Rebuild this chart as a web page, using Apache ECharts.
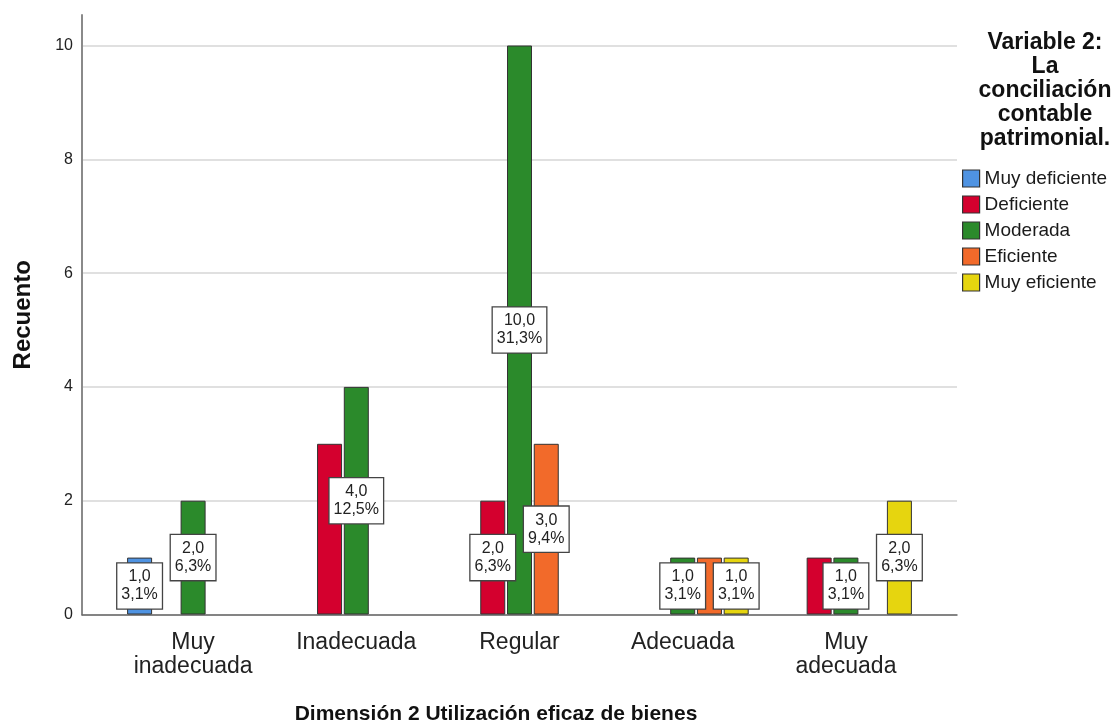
<!DOCTYPE html>
<html>
<head>
<meta charset="utf-8">
<script src="https://cdn.jsdelivr.net/npm/echarts@6/dist/echarts.min.js"></script>
<style>
html,body{margin:0;padding:0;background:#fff;}
#chart{width:1116px;height:724px;}
</style>
</head>
<body>
<div id="chart"></div>
<script>
// ---- data ----
const categories = ['Muy\ninadecuada', 'Inadecuada', 'Regular', 'Adecuada', 'Muy\nadecuada'];
const seriesNames = ['Muy deficiente', 'Deficiente', 'Moderada', 'Eficiente', 'Muy eficiente'];
const muyDeficiente = [1, null, null, null, null];
const deficiente = [null, 3, 2, null, 1];
const moderada = [2, 4, 10, 1, 1];
const eficiente = [null, null, 3, 1, null];
const muyEficiente = [null, null, null, 1, 2];
const yTicks = [0, 2, 4, 6, 8, 10];
// labels that the original hides (overlapping)
const hiddenLabels = [['Deficiente', 1], ['Eficiente', 3], ['Deficiente', 4]];

const seriesValues = [muyDeficiente, deficiente, moderada, eficiente, muyEficiente];
const colors = ['#4F93E2', '#D4002E', '#2B8A2B', '#F26A2A', '#E6D50F'];

const total = seriesValues.flat().reduce((s, v) => s + (v || 0), 0);
const fmt = v => v.toFixed(1).replace('.', ',');

const FONT = 'Liberation Sans, Arial, sans-serif';

const series = seriesNames.map((name, si) => ({
  name: name,
  type: 'bar',
  xAxisIndex: 2,
  yAxisIndex: 2,
  barWidth: 25,
  barGap: '7%',
  itemStyle: { color: colors[si], borderColor: '#333', borderWidth: 1 },
  label: {
    show: true,
    position: 'inside',
    backgroundColor: '#fff',
    borderColor: '#444',
    borderWidth: 1.3,
    padding: [5, 4, 4, 4],
    color: '#222',
    fontFamily: FONT,
    fontSize: 16,
    lineHeight: 18,
    formatter: p => fmt(p.value) + '\n' + fmt(p.value / total * 100) + '%'
  },
  data: seriesValues[si].map((v, ci) => {
    if (v == null) return null;
    const hide = hiddenLabels.some(h => h[0] === name && h[1] === ci);
    return hide ? { value: v, label: { show: false } } : v;
  })
}));

const chart = echarts.init(document.getElementById('chart'), null, { renderer: 'canvas' });
chart.setOption({
  animation: false,
  backgroundColor: '#fff',
  textStyle: { fontFamily: FONT },
  title: [
    {
      text: 'Variable 2:\nLa\nconciliación\ncontable\npatrimonial.',
      left: 1040, top: 26, textAlign: 'center',
      textStyle: { fontFamily: FONT, fontSize: 23, fontWeight: 'bold', lineHeight: 24, color: '#111' }
    },
    {
      text: 'Dimensión 2 Utilización eficaz de bienes',
      left: 491, top: 699, textAlign: 'center',
      textStyle: { fontFamily: FONT, fontSize: 21, fontWeight: 'bold', color: '#111' }
    }
  ],
  legend: {
    orient: 'vertical',
    left: 957, top: 164,
    itemWidth: 17, itemHeight: 17, itemGap: 7,
    icon: 'rect',
    data: seriesNames,
    itemStyle: { borderColor: '#333', borderWidth: 1.2 },
    textStyle: { fontFamily: FONT, fontSize: 19, color: '#1a1a1a' }
  },
  grid: [
    { left: 82, right: 159, top: 45.5, bottom: 109.5 },
    { left: 82, right: 159, top: 15, bottom: 109.5 },
    { left: 111.5, right: 188.5, top: 45.5, bottom: 109.5 }
  ],
  xAxis: [
    {
      gridIndex: 0, type: 'value', min: 0, max: 1,
      axisLine: { show: true, lineStyle: { color: '#666', width: 1.5 } },
      axisTick: { show: false }, axisLabel: { show: false }, splitLine: { show: false }
    },
    {
      gridIndex: 1, type: 'value', min: 0, max: 1, show: false
    },
    {
      gridIndex: 2, type: 'category', data: categories,
      axisLine: { show: false }, axisTick: { show: false },
      axisLabel: { fontFamily: FONT, fontSize: 23, lineHeight: 24, color: '#222', margin: 16, interval: 0 }
    }
  ],
  yAxis: [
    {
      gridIndex: 0, type: 'value', min: yTicks[0], max: yTicks[yTicks.length - 1], interval: 2,
      axisLine: { show: false }, axisTick: { show: false },
      axisLabel: { fontFamily: FONT, fontSize: 16, color: '#222', margin: 9 },
      splitLine: { show: true, lineStyle: { color: '#d6d6d6', width: 1.5 } }
    },
    {
      gridIndex: 1, type: 'value', min: 0, max: 1,
      axisLine: { show: true, lineStyle: { color: '#8a8a8a', width: 2 } },
      axisTick: { show: false }, axisLabel: { show: false }, splitLine: { show: false },
      name: 'Recuento', nameLocation: 'middle', nameRotate: 90, nameGap: 47,
      nameTextStyle: { fontFamily: FONT, fontSize: 24, fontWeight: 'bold', color: '#111' }
    },
    {
      gridIndex: 2, type: 'value', min: yTicks[0], max: yTicks[yTicks.length - 1], show: false
    }
  ],
  series: series
});
</script>
</body>
</html>
